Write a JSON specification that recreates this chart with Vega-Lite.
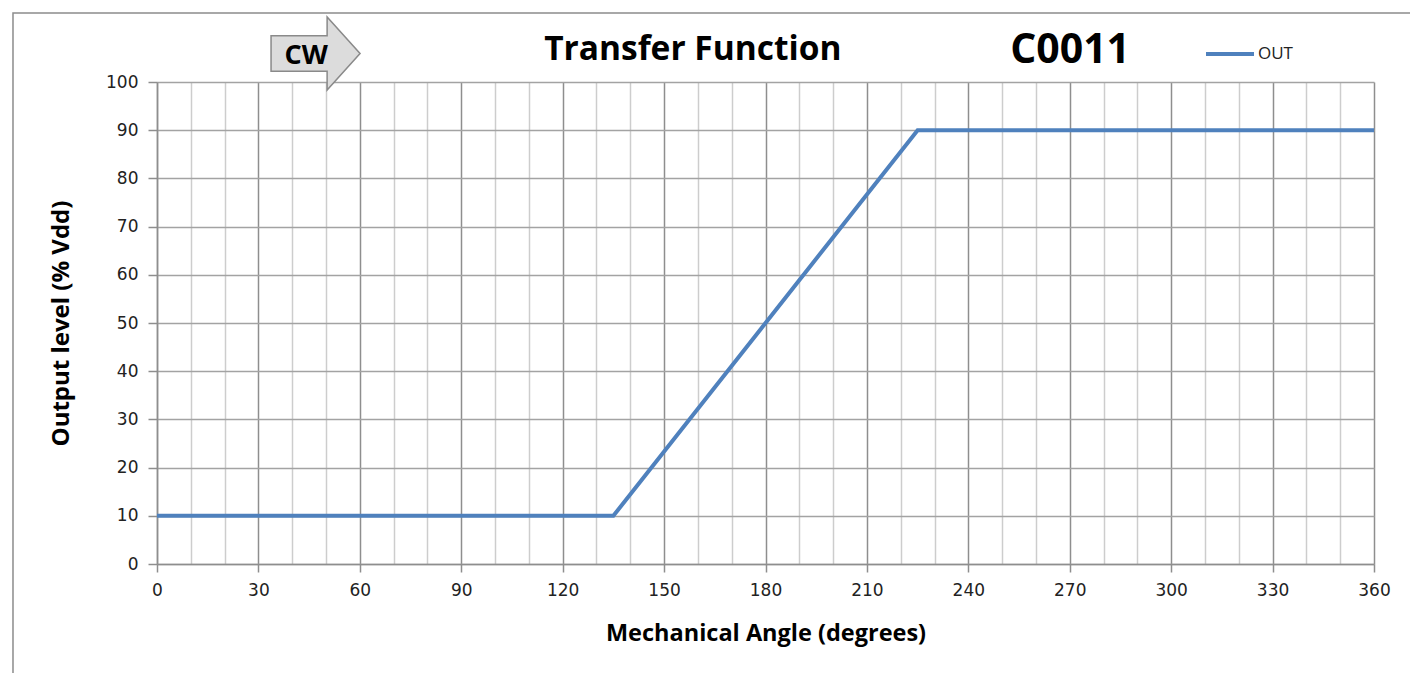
{
  "$schema": "https://vega.github.io/schema/vega-lite/v6.json",
  "width": 1217,
  "height": 482,
  "autosize": {"type": "none"},
  "padding": {"left": 157, "top": 82, "right": 36, "bottom": 109},
  "background": "white",
  "config": {"view": {"stroke": null}, "font": "DejaVu Sans"},
  "layer": [
    {
      "data": {"values": [{}]},
      "mark": {"type": "rect", "fill": null, "filled": false, "stroke": "#8c8c8c", "strokeWidth": 1.5, "clip": false},
      "encoding": {
        "x": {"datum": -42.6, "type": "quantitative"},
        "x2": {"datum": 385},
        "y": {"datum": 114.3, "type": "quantitative"},
        "y2": {"datum": -40}
      }
    },
    {
      "data": {"values": [
        {"angle": 0, "output": 10, "series": "OUT"},
        {"angle": 135, "output": 10, "series": "OUT"},
        {"angle": 225, "output": 90, "series": "OUT"},
        {"angle": 360, "output": 90, "series": "OUT"}
      ]},
      "mark": {"type": "line", "strokeWidth": 4, "clip": false},
      "encoding": {
        "x": {
          "field": "angle", "type": "quantitative",
          "scale": {"domain": [0, 360], "nice": false, "zero": false},
          "axis": {
            "values": [0,10,20,30,40,50,60,70,80,90,100,110,120,130,140,150,160,170,180,190,200,210,220,230,240,250,260,270,280,290,300,310,320,330,340,350,360],
            "tickCount": 60,
            "title": "Mechanical Angle (degrees)",
            "labelExpr": "datum.value % 30 === 0 ? datum.label : ''",
            "grid": true,
            "gridColor": {"condition": {"test": "datum.value % 30 === 0", "value": "#8e8e8e"}, "value": "#cdcdcd"},
            "gridWidth": 1.5,
            "tickColor": "#8e8e8e",
            "tickWidth": 1.5,
            "tickOpacity": {"condition": {"test": "datum.value % 30 === 0", "value": 1}, "value": 0},
            "tickSize": 8,
            "domainColor": "#8e8e8e",
            "domainWidth": 1.5,
            "labelFontSize": 17,
            "labelColor": "#222222",
            "labelPadding": 10,
            "labelFlush": false,
            "labelOverlap": false,
            "titleFont": "Open Sans",
            "titleFontSize": 23.5,
            "titleFontWeight": "bold",
            "titleColor": "black",
            "titlePadding": 23
          }
        },
        "y": {
          "field": "output", "type": "quantitative",
          "scale": {"domain": [0, 100], "nice": false},
          "axis": {
            "values": [0,10,20,30,40,50,60,70,80,90,100],
            "title": "Output level (% Vdd)",
            "grid": true,
            "gridColor": "#a3a3a3",
            "gridWidth": 1.5,
            "tickColor": "#8e8e8e",
            "tickWidth": 1.5,
            "tickSize": 9,
            "domainColor": "#8e8e8e",
            "domainWidth": 1.5,
            "labelFontSize": 17,
            "labelColor": "#222222",
            "labelPadding": 10,
            "labelFlush": false,
            "titleFont": "Open Sans",
            "titleFontSize": 24,
            "titleFontWeight": "bold",
            "titleColor": "black",
            "titlePadding": 32
          }
        },
        "color": {
          "field": "series", "type": "nominal",
          "scale": {"range": ["#4f81bd"]},
          "legend": {
            "orient": "none",
            "legendX": 1047,
            "legendY": -54,
            "title": null,
            "symbolType": "stroke",
            "symbolStrokeWidth": 4,
            "symbolSize": 2304,
            "labelFont": "Open Sans",
            "labelFontSize": 17,
            "labelColor": "#222222",
            "labelOffset": 2
          }
        }
      }
    },
    {
      "data": {"values": [{}]},
      "mark": {
        "type": "point", "filled": true, "clip": false,
        "shape": "M-1,-0.4 L0.26,-0.4 L0.26,-0.82 L1,0 L0.26,0.82 L0.26,0.4 L-1,0.4 Z",
        "size": 7921, "fill": "#dcdcdc", "stroke": "#8a8a8a", "strokeWidth": 1.5, "opacity": 1
      },
      "encoding": {
        "x": {"datum": 46.9, "type": "quantitative"},
        "y": {"datum": 105.9, "type": "quantitative"}
      }
    },
    {
      "data": {"values": [{}]},
      "mark": {"type": "text", "text": "CW", "font": "Open Sans", "fontSize": 27, "fontWeight": "bold", "color": "black", "align": "center", "baseline": "middle", "clip": false},
      "encoding": {
        "x": {"datum": 44.1, "type": "quantitative"},
        "y": {"datum": 105.4, "type": "quantitative"}
      }
    },
    {
      "data": {"values": [{}]},
      "mark": {"type": "text", "text": "Transfer Function", "font": "Open Sans", "fontSize": 33.5, "fontWeight": "bold", "color": "black", "align": "center", "baseline": "middle", "clip": false},
      "encoding": {
        "x": {"datum": 158.5, "type": "quantitative"},
        "y": {"datum": 106.6, "type": "quantitative"}
      }
    },
    {
      "data": {"values": [{}]},
      "mark": {"type": "text", "text": "C0011", "font": "Open Sans", "fontSize": 41, "fontWeight": "bold", "color": "black", "align": "center", "baseline": "middle", "clip": false},
      "encoding": {
        "x": {"datum": 270.1, "type": "quantitative"},
        "y": {"datum": 106.4, "type": "quantitative"}
      }
    }
  ]
}
